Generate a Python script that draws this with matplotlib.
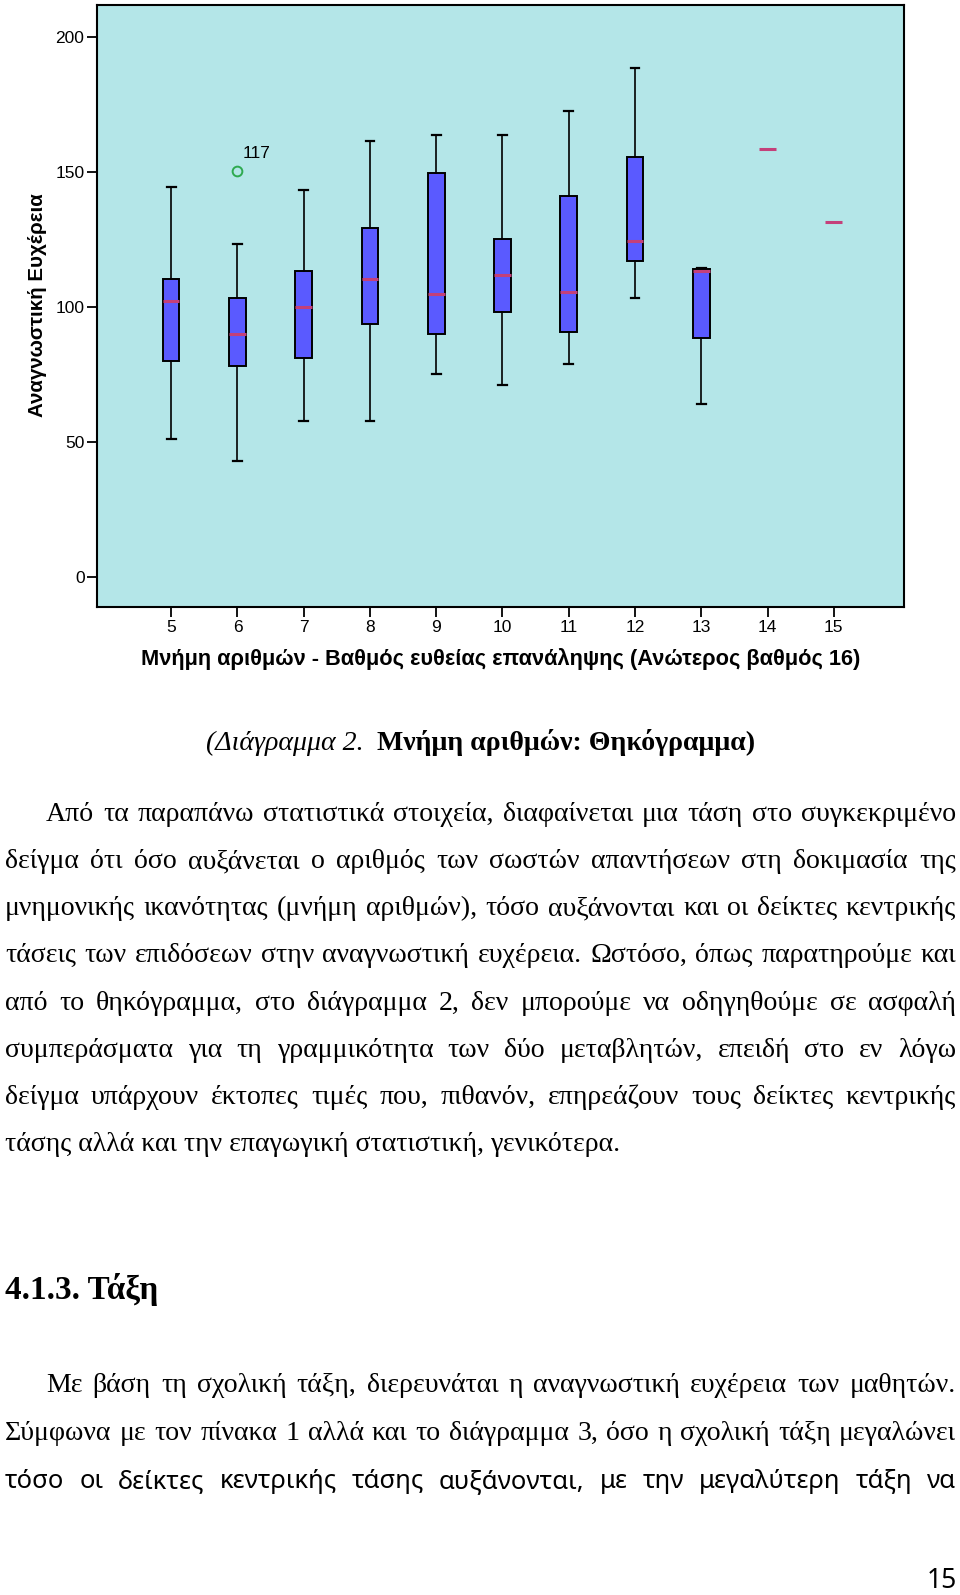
import matplotlib
matplotlib.use("Agg")
import matplotlib.pyplot as plt
import numpy as np

W, H = 960, 1595

# box plot data
cats = [5, 6, 7, 8, 9, 10, 11, 12, 13]
whislo = [51.0, 42.8, 57.9, 57.9, 75.2, 71.0, 79.1, 103.3, 64.1]
q1 = [80.0, 78.0, 81.2, 93.6, 90.1, 98.3, 90.6, 117.2, 88.6]
med = [102.2, 90.2, 100.2, 110.4, 104.8, 111.9, 105.7, 124.4, 113.3]
q3 = [110.4, 103.3, 113.2, 129.4, 149.5, 125.4, 141.0, 155.6, 114.0]
whishi = [144.3, 123.3, 143.3, 161.5, 163.6, 163.6, 172.6, 188.6, 114.3]

# groups with one case only (just a median line)
single_cats = [14, 15]
single_vals = [158.6, 131.5]

# outlier
out_cat = 6
out_val = 150.5
out_label = "117"

xticks = [5, 6, 7, 8, 9, 10, 11, 12, 13, 14, 15]
yticks = [0, 50, 100, 150, 200]

xlabel = "Μνήμη αριθμών - Βαθμός ευθείας επανάληψης (Ανώτερος βαθμός 16)"
ylabel = "Αναγνωστική Ευχέρεια"

caption_a = "(Διάγραμμα 2."
caption_b = "Μνήμη αριθμών: Θηκόγραμμα)"

para1 = [
    "Από τα παραπάνω στατιστικά στοιχεία, διαφαίνεται μια τάση στο συγκεκριμένο",
    "δείγμα ότι όσο αυξάνεται ο αριθμός των σωστών απαντήσεων στη δοκιμασία της",
    "μνημονικής ικανότητας (μνήμη αριθμών), τόσο αυξάνονται και οι δείκτες κεντρικής",
    "τάσεις των επιδόσεων στην αναγνωστική ευχέρεια. Ωστόσο, όπως παρατηρούμε και",
    "από το θηκόγραμμα, στο διάγραμμα 2, δεν μπορούμε να οδηγηθούμε σε ασφαλή",
    "συμπεράσματα για τη γραμμικότητα των δύο μεταβλητών, επειδή στο εν λόγω",
    "δείγμα υπάρχουν έκτοπες τιμές που, πιθανόν, επηρεάζουν τους δείκτες κεντρικής",
    "τάσης αλλά και την επαγωγική στατιστική, γενικότερα.",
]
heading = "4.1.3. Τάξη"
para2 = [
    "Με βάση τη σχολική τάξη, διερευνάται η αναγνωστική ευχέρεια των μαθητών.",
    "Σύμφωνα με τον πίνακα 1 αλλά και το διάγραμμα 3, όσο η σχολική τάξη μεγαλώνει",
    "τόσο οι δείκτες κεντρικής τάσης αυξάνονται, με την μεγαλύτερη τάξη να",
]
page_no = "15"

SERIF = ["Liberation Serif", "DejaVu Serif"]
SANS = ["Liberation Sans", "DejaVu Sans"]
NOTO = ["Noto Sans", "DejaVu Sans"]

plt.rcParams["font.family"] = SANS

fig = plt.figure(figsize=(W / 100, H / 100), dpi=100)
fig.patch.set_facecolor("white")
rend = fig.canvas.get_renderer()


def px(x, y):
    return x / W, 1 - y / H


def text_w(s, **kw):
    t = fig.text(0, 0, s, **kw)
    w = t.get_window_extent(renderer=rend).width
    t.remove()
    return w


def fit_size(s, target, **kw):
    return 17 * target / text_w(s, fontsize=17, **kw)


# ---- chart ----
ax = fig.add_axes([97 / W, 1 - 607 / H, 807 / W, 602 / H])
ax.set_facecolor("#b4e6e8")

stats = []
for i in range(len(cats)):
    stats.append(dict(med=med[i], q1=q1[i], q3=q3[i], whislo=whislo[i],
                      whishi=whishi[i], fliers=[]))

ax.bxp(stats, positions=cats, widths=0.25, capwidths=0.13, patch_artist=True,
       showfliers=False,
       boxprops=dict(facecolor="#5a5aff", edgecolor="black", linewidth=1.4),
       whiskerprops=dict(color="black", linewidth=1.2),
       capprops=dict(color="black", linewidth=1.6),
       medianprops=dict(color="#c4407a", linewidth=2.2))

sc = np.array(single_cats, dtype=float)
ax.hlines(single_vals, sc - 0.125, sc + 0.125, colors="#c4407a", linewidth=2.2)

ax.plot([out_cat], [out_val], "o", mfc="none", mec="#2eaa50", ms=7, mew=1.4)
ax.annotate(out_label, (out_cat, out_val), xytext=(5, 17),
            textcoords="offset pixels", ha="left", va="center",
            fontsize=12.5, family=SANS)

ax.set_xlim(3.88, 16.06)
ax.set_ylim(-11.1, 211.9)
ax.set_xticks(xticks)
ax.set_xticklabels([str(v) for v in xticks])
ax.set_yticks(yticks)
ax.set_yticklabels([str(v) for v in yticks])
ax.tick_params(axis="both", direction="out", length=7, width=1.3, pad=2,
               labelsize=12.5)
for s in ax.spines.values():
    s.set_linewidth(1.5)

xl_fs = fit_size(xlabel, 717, family=SANS, fontweight="bold")
ax.set_xlabel(xlabel, family=SANS, fontweight="bold", fontsize=xl_fs, va="center")
ax.xaxis.set_label_coords(0.5, (607 - 659) / 602)
yl_fs = fit_size(ylabel, 224, family=SANS, fontweight="bold")
ax.set_ylabel(ylabel, family=SANS, fontweight="bold", fontsize=yl_fs, va="center")
ax.yaxis.set_label_coords((38 - 97) / 807, (607 - 305) / 602)

# ---- page text ----
body_fs = fit_size(para1[-1], 615, family=SERIF)

# caption
wa = text_w(caption_a, family=SERIF, style="italic", fontsize=body_fs)
wb = text_w(caption_b, family=SERIF, fontweight="bold", fontsize=body_fs)
gap = 14
cx0 = 480.5 - (wa + gap + wb) / 2
fig.text(*px(cx0, 750), caption_a, family=SERIF, style="italic",
         fontsize=body_fs, ha="left", va="baseline")
fig.text(*px(cx0 + wa + gap, 750), caption_b, family=SERIF, fontweight="bold",
         fontsize=body_fs, ha="left", va="baseline")


def put_line(line, x0, x1, yb, justify=True, **kw):
    if not justify:
        fig.text(*px(x0, yb), line, ha="left", va="baseline", **kw)
        return
    words = line.split()
    ws = [text_w(w, **kw) for w in words]
    g = (x1 - x0 - sum(ws)) / (len(words) - 1)
    x = x0
    for w, wd in zip(words, ws):
        fig.text(*px(x, yb), w, ha="left", va="baseline", **kw)
        x += wd + g


base1 = [821, 868, 915, 962, 1010, 1057, 1104, 1151]
for i, line in enumerate(para1):
    x0 = 46 if i == 0 else 5
    put_line(line, x0, 956, base1[i], justify=(i < len(para1) - 1),
             family=SERIF, fontsize=body_fs)

hd_fs = fit_size(heading, 153, family=SERIF, fontweight="bold")
fig.text(*px(5, 1299), heading, family=SERIF, fontweight="bold",
         fontsize=hd_fs, ha="left", va="baseline")

base2 = [1392, 1440, 1488]
put_line(para2[0], 46, 956, base2[0], family=SERIF, fontsize=body_fs)
put_line(para2[1], 5, 956, base2[1], family=SERIF, fontsize=body_fs)
put_line(para2[2], 5, 956, base2[2], family=NOTO, fontsize=body_fs * 0.92)

fig.text(*px(957, 1588), page_no, family=NOTO,
         fontsize=body_fs * 0.95, ha="right", va="baseline")

fig.savefig("out.png", dpi=100)
